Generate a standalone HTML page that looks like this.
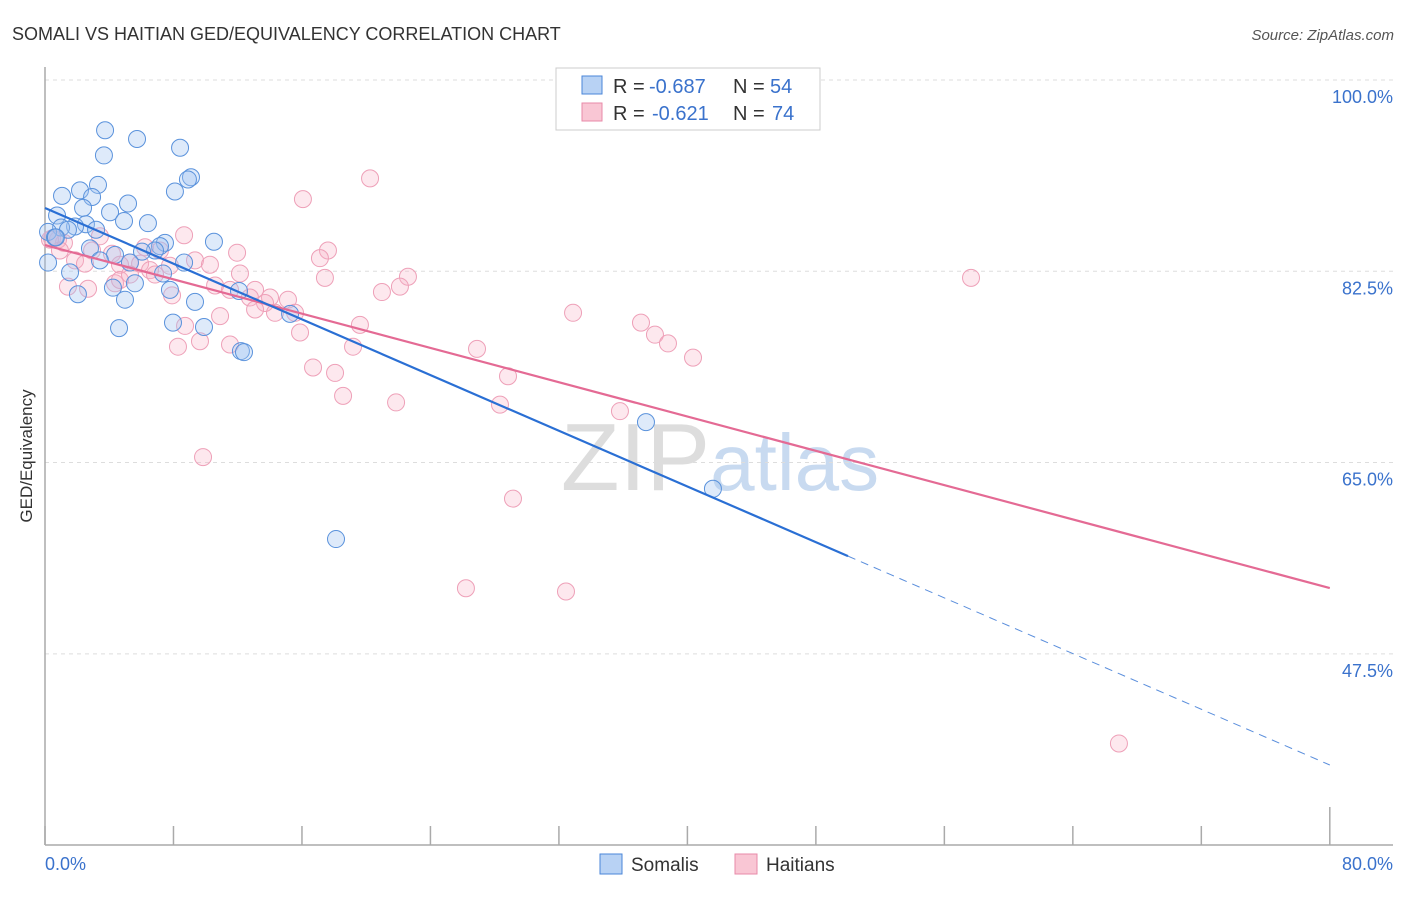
<!DOCTYPE html>
<html><head><meta charset="utf-8"><style>
body{margin:0;background:#fff;font-family:"Liberation Sans",sans-serif;}
svg text{font-family:"Liberation Sans",sans-serif;}
</style></head><body>
<svg id="chart" width="1406" height="892" xmlns="http://www.w3.org/2000/svg">
<text x="12" y="40" font-size="18" fill="#333">SOMALI VS HAITIAN GED/EQUIVALENCY CORRELATION CHART</text>
<text x="1394" y="40" font-size="15" fill="#555" font-style="italic" text-anchor="end">Source: ZipAtlas.com</text>
<text x="720" y="490" font-size="96" fill="#ddd" text-anchor="middle" font-family="Liberation Serif">ZIP<tspan fill="#c8daf0" font-family="Liberation Sans" font-size="80">atlas</tspan></text>
<g id="grid"></g><g id="axes"></g><g id="pts"></g><g id="lines"></g>
<text x="32" y="456" font-size="17" fill="#333" text-anchor="middle" transform="rotate(-90 32 456)">GED/Equivalency</text>
<g>
<rect x="556" y="68" width="264" height="62" fill="#fff" stroke="#ccc"/>
<rect x="582" y="76" width="20" height="18" fill="#b8d2f4" stroke="#4a86d8"/>
<rect x="582" y="103" width="20" height="18" fill="#f9c6d4" stroke="#e88aa8"/>
<text y="93" font-size="20" fill="#333"><tspan x="613">R =</tspan><tspan x="649" fill="#3a72cc">-0.687</tspan><tspan x="733">N =</tspan><tspan x="770" fill="#3a72cc">54</tspan></text>
<text y="120" font-size="20" fill="#333"><tspan x="613">R =</tspan><tspan x="652" fill="#3a72cc">-0.621</tspan><tspan x="733">N =</tspan><tspan x="772" fill="#3a72cc">74</tspan></text>
</g>
<g>
<rect x="600" y="854" width="22" height="20" fill="#b8d2f4" stroke="#4a86d8"/>
<text x="631" y="871" font-size="19" fill="#333">Somalis</text>
<rect x="735" y="854" width="22" height="20" fill="#f9c6d4" stroke="#e88aa8"/>
<text x="766" y="871" font-size="19" fill="#333">Haitians</text>
</g>
</svg>
<script>
const yTicks=[100,82.5,65,47.5];
const yTickLabels=["100.0%","82.5%","65.0%","47.5%"];
const xTickVals=[0,8,16,24,32,40,48,56,64,72,80];
const somaliX=[3.74,5.73,3.67,8.41,9.09,8.90,3.30,1.06,2.18,2.93,8.09,5.17,4.05,2.37,0.75,4.92,6.41,2.55,1.87,1.00,1.43,3.18,0.19,0.62,10.52,7.47,7.16,2.80,6.85,4.36,6.04,8.66,3.42,5.29,0.19,1.56,7.35,5.60,4.23,7.78,2.05,4.98,9.34,12.08,15.26,7.97,9.90,4.61,12.20,12.39,37.42,41.59,18.12,0.68];
const somaliY=[95.4,94.6,93.1,93.8,91.1,90.9,90.4,89.4,89.9,89.3,89.8,88.7,87.9,88.3,87.6,87.1,86.9,86.8,86.6,86.5,86.3,86.3,86.1,85.6,85.2,85.1,84.8,84.6,84.4,84.0,84.3,83.3,83.5,83.3,83.3,82.4,82.3,81.4,81.0,80.8,80.4,79.9,79.7,80.7,78.6,77.8,77.4,77.3,75.2,75.1,68.7,62.6,58.0,85.6];
const haitianX=[20.24,16.06,8.66,11.96,17.62,17.12,0.44,0.81,1.18,3.42,2.93,6.23,7.16,4.17,5.29,1.87,2.49,5.92,9.34,10.27,4.67,6.54,7.78,12.14,17.43,22.60,22.10,20.98,1.43,2.68,4.36,7.91,10.59,11.52,13.08,12.76,14.01,15.13,13.70,14.32,15.57,10.90,8.72,15.88,19.61,32.88,37.11,37.98,38.79,40.35,9.65,11.52,8.28,19.18,26.90,16.69,18.06,28.83,18.56,21.86,28.33,35.80,9.84,29.14,26.21,32.44,66.87,57.66,4.67,6.85,0.93,5.29,13.08,0.31];
const haitianY=[91.0,89.1,85.8,84.2,84.4,83.7,85.5,85.4,85.1,85.7,84.4,84.7,84.4,84.1,83.3,83.5,83.2,83.2,83.5,83.1,83.1,82.6,83.0,82.3,81.9,82.0,81.1,80.6,81.1,80.9,81.4,80.3,81.2,80.8,80.8,80.1,80.1,79.9,79.6,78.7,78.7,78.4,77.5,76.9,77.6,78.7,77.8,76.7,75.9,74.6,76.1,75.8,75.6,75.6,75.4,73.7,73.2,72.9,71.1,70.5,70.3,69.7,65.5,61.7,53.5,53.2,39.3,81.9,81.7,82.2,84.4,82.2,79.0,85.4];
const somaliTrend=[88.29,37.33]; const somaliSolidEnd=50;
const haitianTrend=[84.9,53.52];
const NS="http://www.w3.org/2000/svg";
const sx=v=>45+v*16.06, sy=v=>80+(100-v)*10.93;
function mk(tag,attrs,parent){const e=document.createElementNS(NS,tag);for(const k in attrs)e.setAttribute(k,attrs[k]);document.getElementById(parent).appendChild(e);return e;}
yTicks.forEach((t,i)=>{
 const l=mk('line',{x1:45,x2:1393,y1:sy(t),y2:sy(t),stroke:'#ddd','stroke-dasharray':'4,4'},'grid');
 
 
 const tx=mk('text',{x:1393,y:sy(t)+23,'font-size':18,fill:'#3a72cc','text-anchor':'end'},'grid');
 tx.textContent=yTickLabels[i];
 
 
});
const ya=mk('line',{x1:45,x2:45,y1:67,y2:845,stroke:'#aaa','stroke-width':1.5},'axes');


const xa=mk('line',{x1:45,x2:1393,y1:845,y2:845,stroke:'#aaa','stroke-width':1.5},'axes');


xTickVals.forEach((v,i)=>{
 const t=mk('line',{x1:sx(v),x2:sx(v),y1:(i==10)?807:826,y2:845,stroke:'#aaa','stroke-width':1.5},'axes');
 
 
});
const x0=mk('text',{x:45,y:870,'font-size':18,fill:'#3a72cc'},'axes');x0.textContent='0.0%';


const x1=mk('text',{x:1393,y:870,'font-size':18,fill:'#3a72cc','text-anchor':'end'},'axes');x1.textContent='80.0%';


haitianX.forEach((v,i)=>{
 const c=mk('circle',{cx:sx(v),cy:sy(haitianY[i]),r:8.5,fill:'rgba(248,180,200,0.3)',stroke:'#eea0b8','stroke-width':1},'pts');
 
 
});
somaliX.forEach((v,i)=>{
 const c=mk('circle',{cx:sx(v),cy:sy(somaliY[i]),r:8.5,fill:'rgba(160,196,240,0.35)',stroke:'#5a92dc','stroke-width':1},'pts');
 
 
});
const bAt=x=>somaliTrend[0]+(somaliTrend[1]-somaliTrend[0])*x/80;
const pl=mk('line',{x1:sx(0),y1:sy(haitianTrend[0]),x2:sx(80),y2:sy(haitianTrend[1]),stroke:'#e46a94','stroke-width':2.2},'lines');


const bl=mk('line',{x1:sx(0),y1:sy(bAt(0)),x2:sx(somaliSolidEnd),y2:sy(bAt(somaliSolidEnd)),stroke:'#2a6fd4','stroke-width':2.2},'lines');


const bd=mk('line',{x1:sx(somaliSolidEnd),y1:sy(bAt(somaliSolidEnd)),x2:sx(80),y2:sy(bAt(80)),stroke:'#5a8edc','stroke-width':1,'stroke-dasharray':'8,6'},'lines');


</script>
</body></html>
